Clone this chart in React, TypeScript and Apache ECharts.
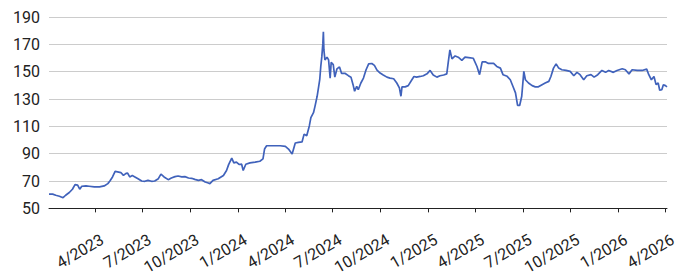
import React, { useEffect, useRef } from "react";
import * as echarts from "echarts";

const dates: string[] = [
  "2023-01-03","2023-01-10","2023-01-16","2023-01-23","2023-01-30","2023-02-04","2023-02-11","2023-02-17","2023-02-22","2023-02-27",
  "2023-03-03","2023-03-07","2023-03-15","2023-03-21","2023-03-31","2023-04-10","2023-04-19","2023-04-26","2023-04-30","2023-05-05",
  "2023-05-10","2023-05-17","2023-05-21","2023-05-26","2023-05-31","2023-06-03","2023-06-07","2023-06-12","2023-06-17","2023-06-23",
  "2023-06-30","2023-07-06","2023-07-12","2023-07-19","2023-07-25","2023-08-01","2023-08-06","2023-08-12","2023-08-20","2023-08-26",
  "2023-09-02","2023-09-08","2023-09-15","2023-09-21","2023-09-28","2023-10-04","2023-10-10","2023-10-17","2023-10-23","2023-10-30",
  "2023-11-05","2023-11-08","2023-11-14","2023-11-24","2023-12-04","2023-12-10","2023-12-14","2023-12-20","2023-12-24","2023-12-29",
  "2024-01-03","2024-01-08","2024-01-11","2024-01-16","2024-01-24","2024-02-03","2024-02-12","2024-02-18","2024-02-21","2024-02-25",
  "2024-03-02","2024-03-12","2024-03-22","2024-04-01","2024-04-07","2024-04-14","2024-04-20","2024-04-26","2024-05-03","2024-05-07",
  "2024-05-12","2024-05-17","2024-05-20","2024-05-25","2024-05-28","2024-06-01","2024-06-04","2024-06-06","2024-06-08","2024-06-10",
  "2024-06-12","2024-06-13","2024-06-14","2024-06-16","2024-06-20","2024-06-23","2024-06-26","2024-06-28","2024-07-02","2024-07-05",
  "2024-07-09","2024-07-14","2024-07-18","2024-07-25","2024-07-31","2024-08-05","2024-08-09","2024-08-12","2024-08-16","2024-08-19",
  "2024-08-24","2024-08-29","2024-09-03","2024-09-08","2024-09-14","2024-09-19","2024-09-24","2024-09-30","2024-10-06","2024-10-13",
  "2024-10-19","2024-10-26","2024-11-01","2024-11-06","2024-11-09","2024-11-11","2024-11-17","2024-11-23","2024-11-30","2024-12-04",
  "2024-12-09","2024-12-16","2024-12-22","2024-12-29","2025-01-04","2025-01-10","2025-01-17","2025-01-23","2025-01-30","2025-02-05",
  "2025-02-08","2025-02-11","2025-02-15","2025-02-21","2025-02-27","2025-03-06","2025-03-12","2025-03-19","2025-03-28","2025-04-04",
  "2025-04-09","2025-04-14","2025-04-20","2025-04-26","2025-05-06","2025-05-12","2025-05-19","2025-05-24","2025-06-01","2025-06-07",
  "2025-06-12","2025-06-17","2025-06-21","2025-06-25","2025-06-29","2025-07-03","2025-07-06","2025-07-12","2025-07-19","2025-07-25",
  "2025-07-31","2025-08-07","2025-08-13","2025-08-20","2025-08-24","2025-08-29","2025-09-03","2025-09-08","2025-09-14","2025-09-22",
  "2025-09-30","2025-10-07","2025-10-13","2025-10-19","2025-10-26","2025-11-01","2025-11-09","2025-11-15","2025-11-22","2025-11-30",
  "2025-12-07","2025-12-13","2025-12-22","2025-12-29","2026-01-08","2026-01-14","2026-01-21","2026-01-27","2026-02-06","2026-02-15",
  "2026-02-24","2026-02-28","2026-03-05","2026-03-10","2026-03-14","2026-03-18","2026-03-21","2026-03-25","2026-03-28","2026-04-01",
  "2026-04-04"
];

const values: number[] = [
  60.4,60.4,59.6,58.9,57.8,59.6,61.6,64.0,67.4,67.0,
  64.0,66.2,66.5,66.2,65.7,65.7,66.4,68.1,70.0,73.0,
  77.0,76.5,76.2,74.1,75.6,75.8,73.0,74.0,73.0,71.7,
  70.0,69.8,70.5,69.8,70.0,71.7,75.1,73.0,71.0,72.2,
  73.2,73.7,73.0,73.2,72.2,72.0,71.2,70.5,71.0,69.3,
  68.6,68.1,70.5,71.7,74.1,77.7,82.0,86.7,83.3,83.8,
  82.1,82.3,77.7,82.3,83.3,83.8,84.5,86.2,93.4,95.8,
  95.8,95.8,95.8,95.3,93.4,89.8,97.8,98.3,98.6,104.3,
  103.1,110.3,116.4,120.0,124.8,132.0,139.3,144.1,153.8,161.0,
  170.7,179.1,165.9,158.6,160.6,158.6,145.3,156.8,155.2,146.0,
  152.0,153.5,148.7,148.7,147.1,146.0,140.5,135.7,139.3,136.8,
  141.7,145.3,151.4,155.7,156.0,154.6,151.1,149.0,147.6,146.0,
  145.3,144.8,141.7,138.2,132.0,138.9,138.9,139.8,144.1,146.5,
  146.0,146.5,147.0,148.4,150.9,147.6,146.0,147.0,147.6,148.4,
  157.4,165.9,159.4,161.5,160.6,158.3,160.6,160.3,159.8,153.8,
  147.8,157.2,157.2,156.0,156.0,153.8,152.6,147.8,146.6,144.1,
  139.3,134.5,125.3,125.3,132.0,150.2,144.1,141.7,139.8,138.9,
  138.9,140.5,141.7,142.9,146.5,152.6,155.7,152.6,151.4,150.9,
  150.2,147.0,149.5,147.8,144.1,147.0,147.8,146.0,147.8,150.9,
  149.5,150.9,149.5,150.9,152.1,151.4,148.4,151.4,150.9,150.9,
  151.9,147.8,144.1,146.5,140.5,141.7,136.4,136.8,140.5,139.8,
  138.9
];

const tickDates: string[] = [
  "2023-04-01","2023-07-01","2023-10-01","2024-01-01","2024-04-01","2024-07-01","2024-10-01",
  "2025-01-01","2025-04-01","2025-07-01","2025-10-01","2026-01-01","2026-04-01"
];

const yMin = 50;
const yMax = 190;
const yStep = 20;

function toTs(s: string): number {
  const [y, m, d] = s.split("-").map(Number);
  return Date.UTC(y, m - 1, d);
}

export default function App() {
  const ref = useRef<HTMLDivElement>(null);
  useEffect(() => {
    if (!ref.current) return;
    const chart = echarts.init(ref.current, null, { renderer: "svg" });
    const ticks = tickDates.map(toTs);
    chart.setOption({
      animation: false,
      backgroundColor: "#ffffff",
      grid: { left: 49, right: 22, top: 17, bottom: 67, containLabel: false },
      xAxis: {
        type: "value",
        min: toTs(dates[0]),
        max: toTs(dates[dates.length - 1]),
        axisLine: { show: true, lineStyle: { color: "#222", width: 1 } },
        axisTick: { show: true, length: 4, customValues: ticks, lineStyle: { color: "#222" } },
        splitLine: { show: false },
        axisLabel: {
          customValues: ticks,
          rotate: 30,
          margin: 25,
          verticalAlign: "top",
          padding: [0, -4, 0, 0],
          fontSize: 16,
          fontFamily: "Roboto",
          color: "#222",
          formatter: (v: number) => {
            const d = new Date(v);
            return `${d.getUTCMonth() + 1}/${d.getUTCFullYear()}`;
          },
        },
      },
      yAxis: {
        type: "value",
        min: yMin,
        max: yMax,
        interval: yStep,
        axisLine: { show: false },
        axisTick: { show: false },
        splitLine: { show: true, lineStyle: { color: "#cccccc", width: 1 } },
        axisLabel: { fontSize: 16, fontFamily: "Roboto", color: "#222", margin: 9 },
      },
      series: [
        {
          type: "line",
          data: dates.map((d, i) => [toTs(d), values[i]]),
          showSymbol: false,
          symbol: "none",
          lineStyle: { color: "#4062bb", width: 1.7 },
        },
      ],
    });
    return () => chart.dispose();
  }, []);
  return (
    <div
      ref={ref}
      style={{ position: "fixed", left: 0, top: 0, width: 689, height: 277, background: "#fff" }}
    />
  );
}
